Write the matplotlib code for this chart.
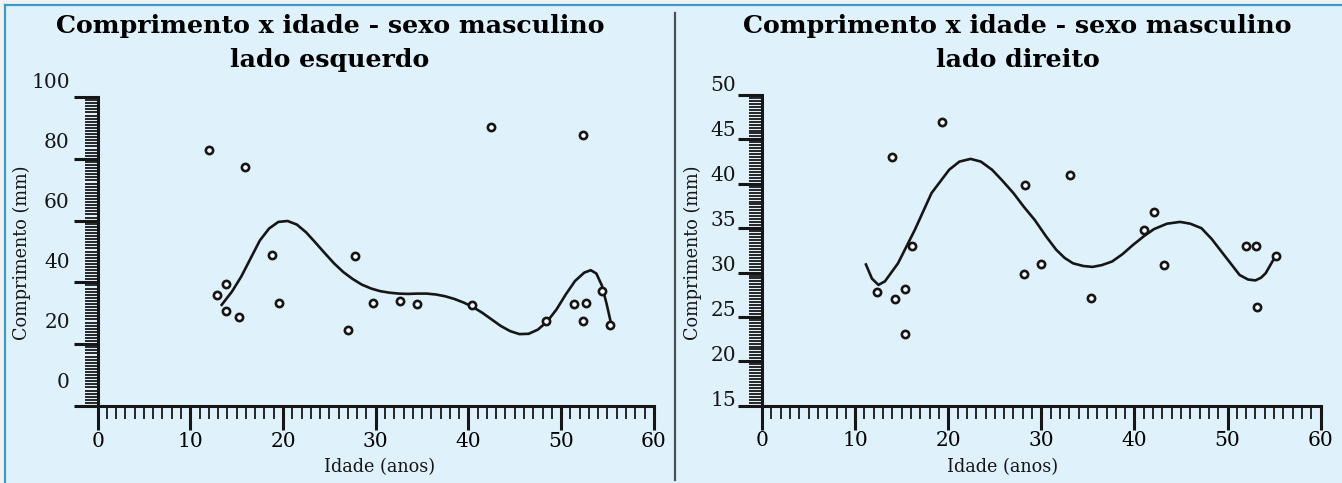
import matplotlib.pyplot as plt
import numpy as np
from matplotlib.lines import Line2D
from matplotlib.patches import Rectangle

plt.rcParams['font.family'] = 'DejaVu Serif'

# ---- data (left: lado esquerdo) ----
esq_idade = [12.0, 15.9, 12.9, 13.9, 13.8, 15.2, 18.8, 19.6, 27.0, 27.8, 29.7,
             32.6, 34.5, 40.4, 42.4, 48.4, 51.4, 52.7, 52.4, 52.4, 54.4, 55.3]
esq_comp = [76.7, 70.9, 28.3, 32.0, 23.0, 21.1, 41.8, 25.7, 16.7, 41.4, 25.7,
            26.2, 25.2, 25.1, 84.4, 19.6, 25.3, 25.7, 19.7, 81.6, 29.7, 18.4]
esq_curva_x = [13.3, 14.5, 15.5, 16.5, 17.5, 18.5, 19.5, 20.5, 21.5, 22.5, 23.5,
               24.5, 25.5, 26.5, 27.5, 28.5, 29.5, 30.5, 31.5, 32.5, 33.5, 34.5,
               35.5, 36.5, 37.5, 38.5, 39.5, 40.5, 41.5, 42.5, 43.5, 44.5, 45.5,
               46.5, 47.5, 48.5, 49.5, 50.5, 51.5, 52.5, 53.2, 53.8, 54.4, 54.9, 55.4]
esq_curva_y = [24.7, 29.5, 34.5, 40.5, 46.5, 50.5, 52.7, 53.0, 51.8, 49.2, 45.8,
               42.3, 38.9, 36.0, 33.7, 31.8, 30.5, 29.6, 29.1, 28.8, 28.7, 28.8,
               28.8, 28.5, 27.9, 27.0, 25.8, 24.3, 22.4, 20.2, 18.0, 16.3, 15.3,
               15.4, 16.8, 19.5, 23.5, 28.5, 33.0, 35.8, 36.6, 35.5, 31.5, 25.5, 18.7]

# ---- data (right: lado direito) ----
dir_idade = [12.3, 14.0, 14.3, 15.3, 15.3, 16.1, 19.3, 28.1, 28.2, 30.0,
             33.1, 35.3, 41.0, 42.1, 43.2, 52.0, 53.1, 53.2, 55.2]
dir_comp = [26.8, 41.8, 26.0, 27.1, 22.1, 31.9, 45.7, 28.8, 38.7, 29.9,
            39.8, 26.1, 33.7, 35.7, 29.8, 31.9, 31.9, 25.2, 30.8]
dir_curva_x = [11.1, 11.8, 12.5, 13.2, 14.6, 16.4, 18.2, 20.1, 21.2, 22.4, 23.5,
               24.7, 25.8, 27.0, 28.1, 29.3, 30.5, 31.6, 32.5, 33.4, 34.5, 35.5,
               36.5, 37.6, 38.7, 39.8, 41.0, 42.1, 43.5, 44.9, 46.0, 47.2, 48.3,
               49.5, 50.4, 51.3, 52.2, 53.0, 53.6, 54.1, 54.6, 55.1]
dir_curva_y = [30.0, 28.3, 27.6, 28.0, 30.0, 33.7, 37.8, 40.4, 41.3, 41.6, 41.3,
               40.4, 39.2, 37.8, 36.3, 34.8, 33.0, 31.5, 30.6, 30.0, 29.7, 29.6,
               29.8, 30.2, 31.0, 32.0, 33.0, 33.8, 34.4, 34.6, 34.4, 33.9, 32.7,
               31.1, 29.9, 28.7, 28.2, 28.1, 28.4, 28.9, 29.8, 30.7]

esq_rotulos = [0, 20, 40, 60, 80, 100]
dir_rotulos = [15, 20, 25, 30, 35, 40, 45, 50]
x_rotulos = [0, 10, 20, 30, 40, 50, 60]

W, H = 1342, 483
fig = plt.figure(figsize=(W / 100, H / 100), dpi=100, facecolor='#f1f1f1')

# panel background + borders
fig.patches.append(Rectangle((5 / W, 0), 1, 1 - 5 / H, transform=fig.transFigure,
                             facecolor='#dff1fb', edgecolor='none', zorder=-5))
fig.lines.append(Line2D([5 / W, 1], [1 - 5 / H, 1 - 5 / H], transform=fig.transFigure,
                        color='#3b9ac6', lw=1.6))
fig.lines.append(Line2D([5 / W, 5 / W], [0, 1 - 5 / H], transform=fig.transFigure,
                        color='#3b9ac6', lw=1.6))
fig.lines.append(Line2D([675 / W, 675 / W], [1 - 13 / H, 1 - 480 / H],
                        transform=fig.transFigure, color='#4b5156', lw=1.6))

preto = '#161616'


def painel(rect, xs, ys, cx, cy, ylim, nmaj, nmin, rotulos, lbl_off, titulo2,
           tx, xlab_x):
    ax = fig.add_axes(rect)
    ax.set_facecolor('none')
    ax.plot(cx, cy, color=preto, lw=1.9, solid_capstyle='butt')
    ax.plot(xs, ys, 'o', ms=5.2, mfc='white', mec=preto, mew=1.9)
    ax.set_xlim(0, 60)
    ax.set_ylim(*ylim)
    for s in ['top', 'right']:
        ax.spines[s].set_visible(False)
    for s in ['left', 'bottom']:
        ax.spines[s].set_linewidth(2.2)
        ax.spines[s].set_color(preto)
    ax.set_xticks(x_rotulos)
    ax.set_xticks(np.arange(0, 61, 1), minor=True)
    ax.set_yticks(np.linspace(ylim[0], ylim[1], nmaj))
    ax.set_yticks(np.linspace(ylim[0], ylim[1], nmin), minor=True)
    ax.tick_params(which='major', direction='out', length=17.5, width=2.2,
                   color=preto, labelsize=14.5, pad=1, labelleft=False)
    ax.tick_params(which='minor', direction='out', length=9.5, width=1.3,
                   color=preto)
    for v in rotulos:
        ax.annotate(str(v), xy=(0, v), xycoords=('axes fraction', 'data'),
                    xytext=(lbl_off, 0), textcoords='offset points',
                    ha='right', va='center_baseline', fontsize=14.5,
                    color=preto, annotation_clip=False)
    fig.text(tx / W, 1 - 33 / H, 'Comprimento x idade - sexo masculino',
             ha='center', va='baseline', fontsize=18.2, fontweight='bold', color='black')
    fig.text(tx / W, 1 - 67 / H, titulo2, ha='center', va='baseline',
             fontsize=18.2, fontweight='bold', color='black')
    fig.text(xlab_x / W, 1 - 467 / H, 'Idade (anos)', ha='center', va='center',
             fontsize=12.7, color=preto)
    return ax


painel([97.6 / W, 1 - 406 / H, 556.2 / W, 309 / H], esq_idade, esq_comp,
       esq_curva_x, esq_curva_y, ((380 - 406) / 3, (380 - 97) / 3), 6, 101,
       esq_rotulos, -20, 'lado esquerdo', 330, 380)
fig.text(21.5 / W, 1 - 253 / H, 'Comprimento (mm)', rotation=90, ha='center',
         va='center', fontsize=12.7, color=preto)

painel([762.1 / W, 1 - 405.7 / H, 558.5 / W, 310.7 / H], dir_idade, dir_comp,
       dir_curva_x, dir_curva_y, (15 + (398.3 - 405.7) / 9, 15 + (398.3 - 95) / 9),
       8, 106, dir_rotulos, -18.7, 'lado direito', 1017.7, 1003)
fig.text(692.6 / W, 1 - 253 / H, 'Comprimento (mm)', rotation=90, ha='center',
         va='center', fontsize=12.7, color=preto)

fig.savefig('out.png', dpi=100, facecolor=fig.get_facecolor())
